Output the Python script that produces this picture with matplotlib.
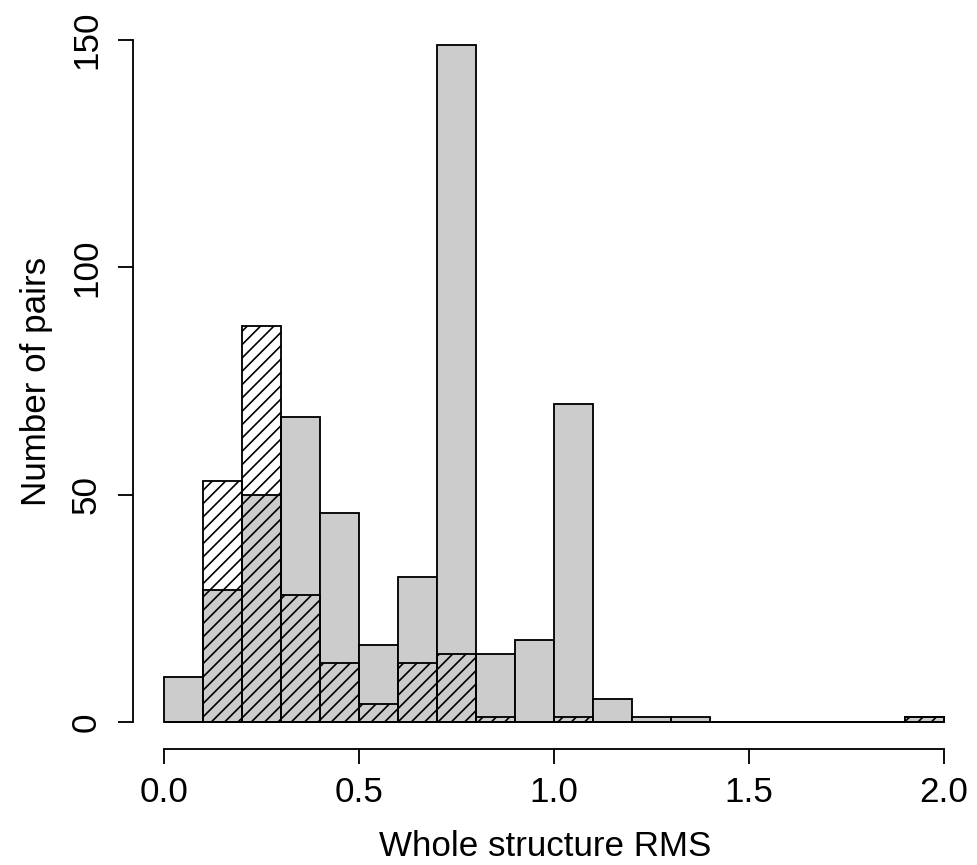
import matplotlib
matplotlib.use("Agg")
import matplotlib.pyplot as plt
import numpy as np

# Histogram bins (RMS), width 0.1 from 0.0 to 2.0
bin_edges = [round(0.1 * i, 1) for i in range(21)]
# Total counts (grey bars)
all_counts = [10, 29, 50, 67, 46, 17, 32, 149, 15, 18, 70, 5, 1, 1, 0, 0, 0, 0, 0, 1]
# Subset counts (hatched bars)
sub_counts = [0, 53, 87, 28, 13, 4, 13, 15, 1, 0, 1, 0, 0, 0, 0, 0, 0, 0, 0, 1]

x_ticks = [0.0, 0.5, 1.0, 1.5, 2.0]
x_ticklabels = ["0.0", "0.5", "1.0", "1.5", "2.0"]
y_ticks = [0, 50, 100, 150]
y_ticklabels = ["0", "50", "100", "150"]

plt.rcParams['font.family'] = ['Liberation Sans', 'DejaVu Sans']
plt.rcParams['hatch.linewidth'] = 1.0

DPI = 120
fig = plt.figure(figsize=(977 / DPI, 865 / DPI), dpi=DPI)
ax = fig.add_axes([133 / 977, (865 - 749.3) / 865, (975 - 133) / 977, (749.3 - 12.7) / 865])

lefts = np.array(bin_edges[:-1])
widths = np.diff(bin_edges)

ax.bar(lefts, all_counts, width=widths, align='edge', color='#cccccc',
       edgecolor='black', linewidth=1.1, zorder=2)
ax.bar(lefts, sub_counts, width=widths, align='edge', facecolor='none',
       edgecolor='black', hatch='///', linewidth=1.1, zorder=3)

ax.set_xlim(-0.08, 2.08)
ax.set_ylim(-6, 156)

for s in ['top', 'right']:
    ax.spines[s].set_visible(False)
ax.spines['left'].set_bounds(0, 150)
ax.spines['bottom'].set_bounds(0, 2)
for s in ['left', 'bottom']:
    ax.spines[s].set_linewidth(1.1)

ax.set_xticks(x_ticks)
ax.set_xticklabels(x_ticklabels)
ax.set_yticks(y_ticks)
ax.set_yticklabels(y_ticklabels, rotation=90, va='center')
ax.tick_params(axis='both', length=9, width=1.1, labelsize=21)
ax.tick_params(axis='x', pad=7)
ax.tick_params(axis='y', pad=9)

ax.set_xlabel("Whole structure RMS", fontsize=21)
ax.set_ylabel("Number of pairs", fontsize=21, labelpad=10)
ax.xaxis.set_label_coords(0.489, -0.110)

fig.savefig("out.png", dpi=DPI, facecolor='white')
